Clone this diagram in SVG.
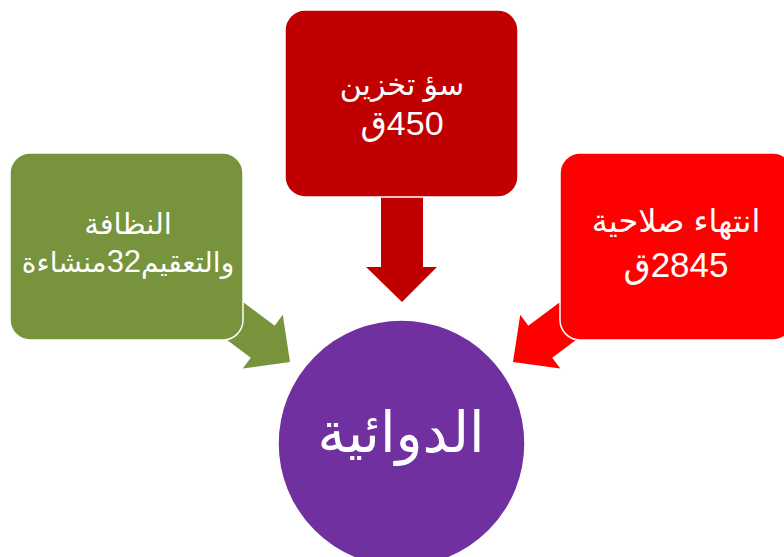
<svg xmlns="http://www.w3.org/2000/svg" width="784" height="557" viewBox="0 0 784 557">
<style>
.box{stroke:#ffffff;stroke-width:1.5}
.t{fill:#ffffff;font-family:"Liberation Sans","DejaVu Sans",sans-serif;text-anchor:middle;direction:rtl}
</style>
<rect width="784" height="557" fill="#ffffff"/>
<g id="connectors">
<polygon fill="#77933C" transform="translate(290,362) rotate(36.7)" points="0,0 -34,-33.5 -34,-20 -120,-20 -120,20 -34,20 -34,33.5"/>
<polygon fill="#FF0000" transform="translate(513,362) scale(-1,1) rotate(36.7)" points="0,0 -34,-33.5 -34,-20 -120,-20 -120,20 -34,20 -34,33.5"/>
<polygon fill="#C00000" points="381,190 423,190 423,267 437,267 402,302 366,267 381,267"/>
</g>
<g id="node-green">
<rect class="box" x="10" y="153" width="233" height="187" rx="20" fill="#77933C"/>
<text class="t" font-size="29" x="128" y="234" direction="rtl">النظافة</text>
<text class="t" font-size="28" x="128" y="272" direction="rtl">والتعقيم<tspan font-size="31">32</tspan>منشاءة</text>
</g>
<g id="node-top">
<rect class="box" x="285" y="10" width="233" height="187" rx="20" fill="#C00000"/>
<text class="t" font-size="30" x="402" y="95" direction="rtl">سؤ تخزين</text>
<text class="t" font-size="34" x="402" y="135" direction="rtl">450ق</text>
</g>
<g id="node-right">
<rect class="box" x="560" y="153" width="233" height="187" rx="20" fill="#FF0000"/>
<text class="t" font-size="32" x="676" y="232" direction="rtl">انتهاء صلاحية</text>
<text class="t" font-size="35" x="676" y="277" direction="rtl">2845ق</text>
</g>
<g id="node-center">
<circle class="box" cx="401.5" cy="443.5" r="123.5" fill="#7030A0"/>
<text class="t" font-size="56" x="401" y="452" direction="rtl">الدوائية</text>
</g>
</svg>
